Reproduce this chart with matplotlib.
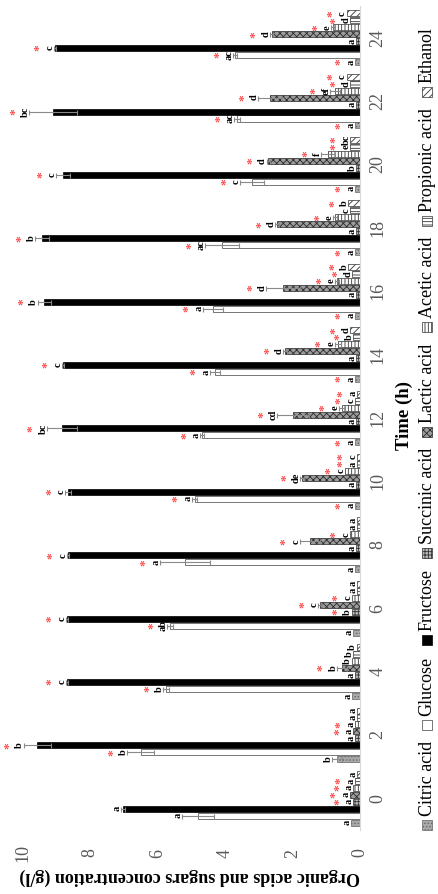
import matplotlib
matplotlib.use('Agg')
import matplotlib.pyplot as plt
import numpy as np
from matplotlib.patches import Rectangle

W, H, DPI = 438, 894, 100
plt.rcParams['font.family'] = ['Liberation Serif', 'DejaVu Serif']
plt.rcParams['hatch.linewidth'] = 0.6

# ---------------- data ----------------
times = ['0', '2', '4', '6', '8', '10', '12', '14', '16', '18', '20', '22', '24']
series = ['Citric acid', 'Glucose', 'Fructose', 'Succinic acid', 'Lactic acid',
          'Acetic acid', 'Propionic acid', 'Ethanol']
value_ticks = [0, 2, 4, 6, 8, 10]

citric_acid = [0.27, 0.68, 0.25, 0.20, 0.15, 0.15, 0.15, 0.15, 0.15, 0.15, 0.15, 0.15, 0.15]
citric_err = [0, 0.15, 0, 0, 0, 0, 0, 0, 0, 0, 0, 0, 0]
citric_let = ['a', 'b', 'a', 'a', 'a', 'a', 'a', 'a', 'a', 'a', 'a', 'a', 'a']
citric_sig = [0, 0, 0, 0, 0, 1, 1, 1, 1, 1, 1, 1, 1]

glucose = [4.80, 6.50, 5.75, 5.63, 5.19, 4.90, 4.68, 4.30, 4.36, 4.09, 3.20, 3.64, 3.70]
glucose_err = [0.47, 0.40, 0.08, 0.08, 0.74, 0.08, 0.05, 0.15, 0.30, 0.50, 0.35, 0.08, 0.06]
glucose_let = ['a', 'b', 'b', 'ab', 'a', 'a', 'a', 'a', 'a', 'ac', 'c', 'ac', 'ac']
glucose_sig = [0, 1, 1, 1, 1, 1, 1, 1, 1, 1, 1, 1, 1]

fructose = [7.02, 9.57, 8.68, 8.68, 8.65, 8.65, 8.83, 8.80, 9.35, 9.42, 8.80, 9.10, 9.04]
fructose_err = [0.05, 0.40, 0.04, 0.04, 0.04, 0.08, 0.45, 0.04, 0.20, 0.20, 0.20, 0.70, 0.04]
fructose_let = ['a', 'b', 'c', 'c', 'c', 'c', 'bc', 'c', 'b', 'b', 'c', 'bc', 'c']
fructose_sig = [0, 1, 1, 1, 1, 1, 1, 1, 1, 1, 1, 1, 1]

succinic_acid = [0.20, 0.15, 0.15, 0.25, 0.12, 0.12, 0.12, 0.12, 0.12, 0.12, 0.12, 0.12, 0.12]
succinic_err = [0, 0, 0, 0, 0, 0, 0, 0, 0, 0, 0, 0, 0]
succinic_let = ['a', 'a', 'a', 'b', 'a', 'a', 'a', 'a', 'a', 'a', 'b', 'a', 'a']
succinic_sig = [1, 0, 0, 1, 0, 0, 0, 0, 0, 0, 0, 0, 0]

lactic_acid = [0.30, 0.20, 0.53, 1.18, 1.48, 1.72, 1.98, 2.22, 2.28, 2.46, 2.72, 2.67, 2.62]
lactic_err = [0, 0, 0.15, 0.05, 0.30, 0.05, 0.47, 0.05, 0.50, 0.05, 0.05, 0.35, 0.05]
lactic_let = ['a', 'a', 'b', 'c', 'c', 'de', 'cd', 'd', 'd', 'd', 'd', 'd', 'd']
lactic_sig = [1, 1, 1, 1, 1, 1, 1, 1, 1, 1, 1, 1, 1]

acetic_acid = [0.20, 0.15, 0.25, 0.25, 0.30, 0.45, 0.53, 0.65, 0.68, 0.74, 0.95, 0.75, 0.80]
acetic_err = [0, 0, 0, 0, 0, 0, 0.10, 0.10, 0.05, 0.05, 0.20, 0.15, 0.05]
acetic_let = ['a', 'a', 'b', 'c', 'c', 'c', 'e', 'e', 'e', 'e', 'f', 'ef', 'e']
acetic_sig = [1, 1, 0, 1, 1, 1, 1, 1, 1, 1, 1, 1, 1]

propionic_acid = [0.15, 0.10, 0.20, 0.10, 0.10, 0.10, 0.15, 0.20, 0.25, 0.30, 0.30, 0.30, 0.30]
propionic_err = [0, 0, 0, 0, 0, 0, 0, 0, 0, 0, 0, 0, 0]
propionic_let = ['a', 'a', 'b', 'a', 'a', 'a', 'c', 'b', 'd', 'c', 'e', 'd', 'd']
propionic_sig = [1, 0, 0, 0, 0, 1, 1, 1, 1, 0, 1, 1, 1]

ethanol = [0.10, 0.10, 0.10, 0.10, 0.10, 0.10, 0.10, 0.30, 0.35, 0.35, 0.30, 0.40, 0.40]
ethanol_err = [0, 0, 0, 0, 0, 0, 0, 0, 0, 0, 0, 0, 0]
ethanol_let = ['a', 'a', 'b', 'a', 'a', 'c', 'a', 'd', 'b', 'b', 'bc', 'c', 'c']
ethanol_sig = [0, 0, 0, 0, 0, 1, 1, 1, 1, 1, 1, 1, 1]

values = [citric_acid, glucose, fructose, succinic_acid, lactic_acid, acetic_acid, propionic_acid, ethanol]
errors = [citric_err, glucose_err, fructose_err, succinic_err, lactic_err, acetic_err, propionic_err, ethanol_err]
letters = [citric_let, glucose_let, fructose_let, succinic_let, lactic_let, acetic_let, propionic_let, ethanol_let]
signif = [citric_sig, glucose_sig, fructose_sig, succinic_sig, lactic_sig, acetic_sig, propionic_sig, ethanol_sig]

styles = [
    dict(facecolor='#a9a9a9', edgecolor='#666666', hatch='.....'),
    dict(facecolor='white', edgecolor='#404040', hatch=None),
    dict(facecolor='black', edgecolor='black', hatch=None),
    dict(facecolor='#bdbdbd', edgecolor='#333333', hatch='+++++'),
    dict(facecolor='#9c9c9c', edgecolor='#2a2a2a', hatch='xxxxx'),
    dict(facecolor='white', edgecolor='#333333', hatch='|||||'),
    dict(facecolor='white', edgecolor='#333333', hatch='-----'),
    dict(facecolor='white', edgecolor='#333333', hatch='/////'),
]

# ---------------- figure ----------------
fig = plt.figure(figsize=(W / DPI, H / DPI), dpi=DPI)
ax = fig.add_axes([22.5 / W, (H - 830) / H, (360 - 22.5) / W, (830 - 6) / H])

pos = np.arange(len(times))
slot, bh = 0.11, 0.095
for k in range(len(series)):
    yk = pos + (k - 3.5) * slot
    vals = np.array(values[k], dtype=float)
    errs = np.array(errors[k], dtype=float)
    ax.barh(yk, vals, height=bh, linewidth=0.5, zorder=2, **styles[k])
    m = errs > 0
    if m.any():
        ax.errorbar(vals[m], yk[m], xerr=errs[m], fmt='none', ecolor='#8a8a8a',
                    elinewidth=0.8, capsize=1.8, capthick=0.8, zorder=3)
    for v, e, y, l, s in zip(vals, errs, yk, letters[k], signif[k]):
        ax.annotate(l, xy=(v + e, y), xytext=(-1.0, 0), textcoords='offset points',
                    rotation=90, rotation_mode='anchor', ha='center', va='baseline',
                    fontsize=7.5, fontweight='bold', color='black', zorder=4,
                    annotation_clip=False)
        if s:
            ax.annotate('*', xy=(v + e, y), xytext=(-8.0, 0), textcoords='offset points',
                        rotation=90, rotation_mode='anchor', ha='center', va='baseline',
                        fontsize=9.5, fontweight='bold', color='#ff4a4a', zorder=4,
                        annotation_clip=False)

ax.set_xlim(10, 0)
ax.set_ylim(-0.5, len(times) - 0.5)
ax.set_xticks(value_ticks)
ax.set_xticklabels([str(t) for t in value_ticks])
ax.yaxis.tick_right()
ax.set_yticks(pos)
ax.set_yticklabels(times)
ax.tick_params(axis='both', length=0, labelsize=13, labelcolor='#595959')
ax.tick_params(axis='y', pad=18 * 0.72)
ax.tick_params(axis='x', pad=23 * 0.72)
for lbl in ax.get_yticklabels() + ax.get_xticklabels():
    lbl.set_rotation(90)
    lbl.set_ha('center')
    lbl.set_va('center')
for sp in ['top', 'left', 'bottom']:
    ax.spines[sp].set_visible(False)
ax.spines['right'].set_color('#d9d9d9')
ax.spines['right'].set_linewidth(0.8)
ax.patch.set_alpha(0)

# ---------------- overlay (pixel coordinates) ----------------
ov = fig.add_axes([0, 0, 1, 1], zorder=5)
ov.set_xlim(0, W)
ov.set_ylim(H, 0)
ov.axis('off')
ov.patch.set_alpha(0)

ov.text(190, 877, 'Organic acids and sugars concentration (g/l)', rotation=180,
        ha='center', va='center', fontsize=13, fontweight='bold')
ov.text(404, 416, 'Time (h)', rotation=90, ha='center', va='center',
        fontsize=13.5, fontweight='bold')

fig.canvas.draw()
renderer = fig.canvas.get_renderer()
leg_texts, leg_w = [], []
for name in series:
    t = ov.text(0, 0, name, fontsize=13, rotation=90, rotation_mode='anchor',
                ha='left', va='center', color='black')
    bb = t.get_window_extent(renderer)
    leg_texts.append(t)
    leg_w.append(bb.height)
icon, g1 = 10, 4
y_start, y_end = 830, 27
g2 = (y_start - y_end - len(series) * (icon + g1) - sum(leg_w)) / (len(series) - 1)
y = y_start
for k, t in enumerate(leg_texts):
    st = styles[k]
    ov.add_patch(Rectangle((422, y - icon), icon, icon, linewidth=0.5, **st))
    y -= icon + g1
    t.set_position((427, y))
    y -= leg_w[k] + g2

fig.savefig('out.png', dpi=DPI)
